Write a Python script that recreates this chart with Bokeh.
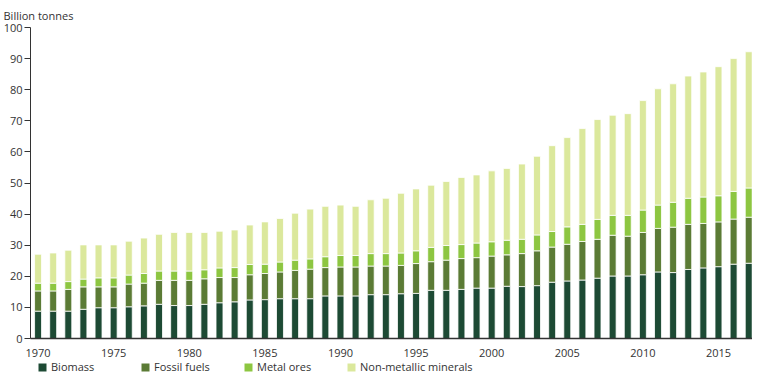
from bokeh.plotting import figure
from bokeh.layouts import column
from bokeh.models import ColumnDataSource, FixedTicker, Legend, LegendItem, Range1d
from bokeh.embed import file_html
from bokeh.resources import INLINE

years = list(range(1970, 2018))
biomass = [8.8, 8.8, 8.8, 9.4, 9.9, 9.9, 10.2, 10.5, 11.0, 10.6, 10.6, 11.0, 11.5, 11.8, 12.4, 12.5,
           12.8, 12.8, 12.8, 13.7, 13.7, 13.7, 14.1, 14.1, 14.4, 14.5, 15.5, 15.5, 15.8, 16.2, 16.2, 16.8,
           16.7, 17.0, 18.1, 18.5, 18.8, 19.4, 20.1, 20.1, 20.5, 21.4, 21.2, 22.2, 22.7, 23.1, 23.9, 24.2]
fossil = [6.5, 6.5, 7.0, 7.2, 6.7, 6.7, 7.3, 7.3, 7.7, 8.1, 8.1, 8.2, 8.1, 7.8, 8.1, 8.4,
          8.6, 9.1, 9.5, 9.1, 9.3, 9.3, 9.2, 9.2, 9.1, 9.6, 9.2, 9.7, 9.9, 9.8, 10.3, 10.1,
          10.6, 11.2, 11.3, 11.8, 12.4, 12.5, 13.1, 12.8, 13.6, 14.0, 14.6, 14.5, 14.3, 14.4, 14.5, 14.8]
metal = [2.5, 2.5, 2.5, 2.5, 2.9, 2.9, 2.9, 3.1, 3.0, 3.0, 3.0, 2.9, 3.1, 3.2, 3.3, 3.0,
         3.2, 3.3, 3.3, 3.5, 3.7, 3.7, 4.0, 4.0, 4.0, 4.1, 4.6, 4.7, 4.5, 4.7, 4.6, 4.7,
         4.6, 5.1, 5.0, 5.6, 5.5, 6.4, 6.4, 6.7, 7.2, 7.5, 8.0, 8.4, 8.5, 8.4, 8.9, 9.4]
nonmet = [9.3, 9.7, 10.1, 11.0, 10.6, 10.6, 10.9, 11.4, 11.8, 12.4, 12.4, 12.0, 11.8, 12.1, 12.7, 13.6,
          14.0, 15.1, 16.0, 16.2, 16.2, 15.8, 17.3, 17.8, 19.2, 19.9, 20.0, 20.6, 21.6, 21.9, 22.8, 23.1,
          24.2, 25.3, 27.6, 28.7, 30.8, 32.1, 32.2, 32.7, 35.2, 37.4, 38.1, 39.3, 40.2, 41.5, 42.7, 43.8]

series = ["Biomass", "Fossil fuels", "Metal ores", "Non-metallic minerals"]
colors = ["#1d4a34", "#5b7b35", "#8dc641", "#dbe89c"]
x_ticks = [1970, 1975, 1980, 1985, 1990, 1995, 2000, 2005, 2010, 2015]
y_ticks = [0, 10, 20, 30, 40, 50, 60, 70, 80, 90, 100]

source = ColumnDataSource(dict(year=years, **{
    series[0]: biomass, series[1]: fossil, series[2]: metal, series[3]: nonmet}))

FONT = "Open Sans"
TXT = "#333333"

p = figure(width=752, height=359, output_backend="svg", toolbar_location=None,
           x_range=Range1d(1969.5, 2017.25), y_range=Range1d(0, 100),
           min_border_left=27, min_border_right=0, min_border_top=0, min_border_bottom=20)
p.outline_line_color = None
p.xgrid.visible = False
p.ygrid.visible = False

p.vbar_stack(series, x="year", width=0.46, color=colors, source=source,
             line_color="white", line_width=0.8)

# title
p.title.text = "Billion tonnes"
p.title.text_font = FONT
p.title.text_font_size = "11px"
p.title.text_font_style = "normal"
p.title.text_color = TXT
p.title.align = "left"
p.title.offset = -27
p.title.standoff = 10

# axes
p.xaxis.ticker = FixedTicker(ticks=x_ticks)
p.xaxis.major_tick_line_color = None
p.xaxis.minor_tick_line_color = None
p.xaxis.axis_line_color = "#333333"
p.xaxis.axis_line_width = 1.5
p.xaxis.major_label_standoff = 4
p.yaxis.ticker = FixedTicker(ticks=y_ticks)
p.yaxis.minor_tick_line_color = None
p.yaxis.major_tick_in = 0
p.yaxis.major_tick_out = 6
p.yaxis.major_tick_line_color = "#333333"
p.yaxis.axis_line_color = "#333333"
p.yaxis.major_label_standoff = 2
for ax in (p.xaxis, p.yaxis):
    ax.major_label_text_font = FONT
    ax.major_label_text_font_size = "11px"
    ax.major_label_text_color = TXT

# legend strip (its bars lie outside its visible range; only the legend shows)
lg = figure(width=752, height=15, output_backend="svg", toolbar_location=None,
            x_axis_type=None, y_axis_type=None, x_range=Range1d(0, 1), y_range=Range1d(0, 1),
            min_border_left=0, min_border_right=0, min_border_top=0, min_border_bottom=0)
lg.outline_line_color = None
lg.xgrid.visible = False
lg.ygrid.visible = False
lg_renderers = lg.vbar_stack(series, x="year", width=0.46, color=colors, source=source,
                             line_color=None)
legend = Legend(items=[LegendItem(label=s, renderers=[r]) for s, r in zip(series, lg_renderers)],
                orientation="horizontal", location=(7, 0))
legend.label_text_font = FONT
legend.label_text_font_size = "11px"
legend.label_text_color = TXT
legend.label_height = 14
legend.glyph_width = 10
legend.glyph_height = 10
legend.label_standoff = 4
legend.label_width = 85
legend.spacing = 4
legend.padding = 0
legend.margin = 0
legend.border_line_color = None
legend.background_fill_alpha = 0
lg.add_layout(legend)

layout = column(p, lg, spacing=0)
open("out.html", "w").write(file_html(layout, INLINE))
